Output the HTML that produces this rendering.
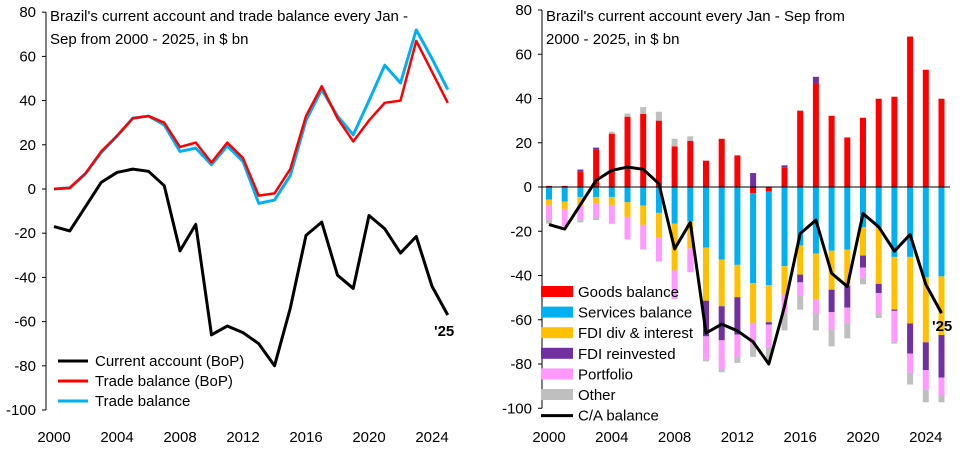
<!DOCTYPE html>
<html><head><meta charset="utf-8"><style>
body{margin:0;background:#fff;}
svg text{font-family:"Liberation Sans",Arial,sans-serif;}
</style></head><body>
<svg id="c" width="963" height="448"></svg>
<script>
const years=[2000,2001,2002,2003,2004,2005,2006,2007,2008,2009,2010,2011,2012,2013,2014,2015,2016,2017,2018,2019,2020,2021,2022,2023,2024,2025];
const caBalance=[-17,-19,-8,3,7.5,9,8,1.5,-28,-16,-66,-62,-65,-70,-80,-54,-21,-15,-39,-45,-12,-18,-29,-21.5,-44,-57];
const tradeBop=[0,0.5,7,17,24,32,33,30,19,21,12,21,14,-3,-2,9,33,46.5,32,21.5,31,39,40,67,53,39];
const tradeBal=[0,0.5,7,16.5,24,32,33,29,17,18.5,11,19.5,12.5,-6.5,-5,6,31,45,33,24.5,40,56,48,72,59,45];
const goods=[0.5,0.5,7.1,17,24.1,31.8,33.1,30,18.4,20.9,11.9,21.8,14.3,-2.7,-2,8.9,34.5,46.8,32.2,22.4,31.3,39.9,40.8,68,53,39.9];
const services=[-5.7,-6.6,-4.5,-4.5,-4.5,-6.9,-8.4,-11.7,-16.6,-15.4,-27.4,-32.8,-35.2,-40.7,-42.4,-35.8,-26.5,-30.1,-28.8,-28.3,-18.2,-18.5,-31.6,-31.6,-40.8,-40.4];
const fdiDiv=[-2.4,-3.3,-3.9,-3,-3.6,-6.6,-8.7,-11.1,-21.1,-12.3,-24,-21.1,-14.6,-18,-16.7,-12.8,-13.1,-20.5,-17.6,-16.3,-12.8,-25.3,-23.8,-30.1,-29.4,-26.5];
const fdiReinv=[0,0,0.8,0.8,0,0,0,0,0,0,-16.1,-15.4,-16.9,6.3,-1.1,0.9,-3.5,3,-10.2,-9.9,-5.4,-4.1,-0.6,-13.6,-12.6,-19.2];
const portfolio=[-6.4,-7.9,-6.6,-6.5,-8.5,-10.2,-11.1,-10.8,-12.9,-10.8,-10.2,-13.2,-10.1,-9.8,-10.1,-8.3,-5.9,-6.6,-7.6,-6.9,-4.6,-9.3,-13.7,-8.7,-8.8,-7.9];
const other=[-2.1,0,-1,-1,0.9,1.4,3,4,3.4,2,-1.1,-1.2,-2.7,-5.6,-5.7,-7.9,-6.4,-7.6,-7.8,-7,-3,-2,-1.1,-5.3,-5.7,-3.3];
const yTicks=[80,60,40,20,0,-20,-40,-60,-80,-100];
const xTicks=[2000,2004,2008,2012,2016,2020,2024];

const svg=document.getElementById('c');
const NS='http://www.w3.org/2000/svg';
function mk(tag,attrs,parent){const e=document.createElementNS(NS,tag);for(const k in attrs)e.setAttribute(k,attrs[k]);(parent||svg).appendChild(e);return e;}

function panel(opt){
  const g=mk('g',{});
  
  
  const X=y=>opt.x0+(y-2000)*opt.dx;
  const Y=v=>opt.y0-v*opt.dy;
  const ax=mk('line',{x1:opt.axX,y1:Y(80),x2:opt.axX,y2:Y(-100),stroke:'#000','stroke-width':1},g);
  
  yTicks.forEach(t=>{
    mk('line',{x1:opt.axX-4,y1:Y(t),x2:opt.axX,y2:Y(t),stroke:'#000'},g);
    const tx=mk('text',{x:opt.axX-10,y:Y(t)+5,'text-anchor':'end','font-size':15},g);
    tx.textContent=t;
    
  });
  xTicks.forEach(t=>{
    const tx=mk('text',{x:X(t),y:442,'text-anchor':'middle','font-size':15},g);
    tx.textContent=t;
    
  });
  opt.title.forEach((s,i)=>{
    const tx=mk('text',{x:opt.axX+4,y:21+i*23,'font-size':15},g);
    tx.textContent=s;
    
  });
  return {g,X,Y};
}
function line(g,X,Y,data,color,w,name){
  const p=mk('polyline',{points:data.map((v,i)=>X(years[i])+','+Y(v)).join(' '),fill:'none',stroke:color,'stroke-width':w,'stroke-linejoin':'round'},g);
  
}

// Left panel
const L=panel({name:'left-chart',x0:54,dx:15.75,y0:189,dy:2.21,axX:46,
  title:["Brazil's current account and trade balance every Jan -","Sep from 2000 - 2025, in $ bn"]});
line(L.g,L.X,L.Y,tradeBal,'#00b0f0',3,'trade-balance-line');
line(L.g,L.X,L.Y,tradeBop,'#ff0000',2.5,'trade-balance-bop-line');
line(L.g,L.X,L.Y,caBalance,'#000',3,'current-account-line');
const l25=mk('text',{x:434,y:336,'font-size':15,'font-weight':'bold'},L.g);l25.textContent="'25";

[['Current account (BoP)','#000'],['Trade balance (BoP)','#ff0000'],['Trade balance','#00b0f0']].forEach((e,i)=>{
  const gg=mk('g',{},L.g);
  
  mk('line',{x1:58,y1:361+i*20,x2:88,y2:361+i*20,stroke:e[1],'stroke-width':3},gg);
  const t=mk('text',{x:95,y:366+i*20,'font-size':15},gg);t.textContent=e[0];
});

// Right panel
const R=panel({name:'right-chart',x0:549,dx:15.7,y0:187,dy:2.2125,axX:542,
  title:["Brazil's current account every Jan - Sep from","2000 - 2025, in $ bn"]});
const series=[['Goods balance','#ff0000',goods],['Services balance','#00b0f0',services],['FDI div & interest','#ffc000',fdiDiv],['FDI reinvested','#7030a0',fdiReinv],['Portfolio','#ff99ff',portfolio],['Other','#bfbfbf',other]];
const bw=6;
years.forEach((yr,i)=>{
  let pos=0,neg=0;
  series.forEach(s=>{
    const v=s[2][i];if(!v)return;
    let a,b;
    if(v>0){a=pos;b=pos+v;pos=b;}else{a=neg;b=neg+v;neg=b;}
    const r=mk('rect',{x:R.X(yr)-bw/2,y:Math.min(R.Y(a),R.Y(b)),width:bw,height:Math.abs(R.Y(a)-R.Y(b)),fill:s[1]},R.g);
    
    
  });
});
const zl=mk('line',{x1:542,y1:R.Y(0),x2:950,y2:R.Y(0),stroke:'#000'},R.g);

line(R.g,R.X,R.Y,caBalance,'#000',3,'ca-balance-line');
const r25=mk('text',{x:932,y:331,'font-size':15,'font-weight':'bold'},R.g);r25.textContent="'25";

series.forEach((s,i)=>{
  const gg=mk('g',{},R.g);
  
  mk('rect',{x:541,y:286+i*20.6,width:32,height:11,fill:s[1]},gg);
  const t=mk('text',{x:578,y:297+i*20.6,'font-size':15},gg);t.textContent=s[0];
});
{const gg=mk('g',{},R.g);

mk('line',{x1:541,y1:415.6,x2:573,y2:415.6,stroke:'#000','stroke-width':3},gg);
const t=mk('text',{x:578,y:420.6,'font-size':15},gg);t.textContent='C/A balance';}
</script>
</body></html>
